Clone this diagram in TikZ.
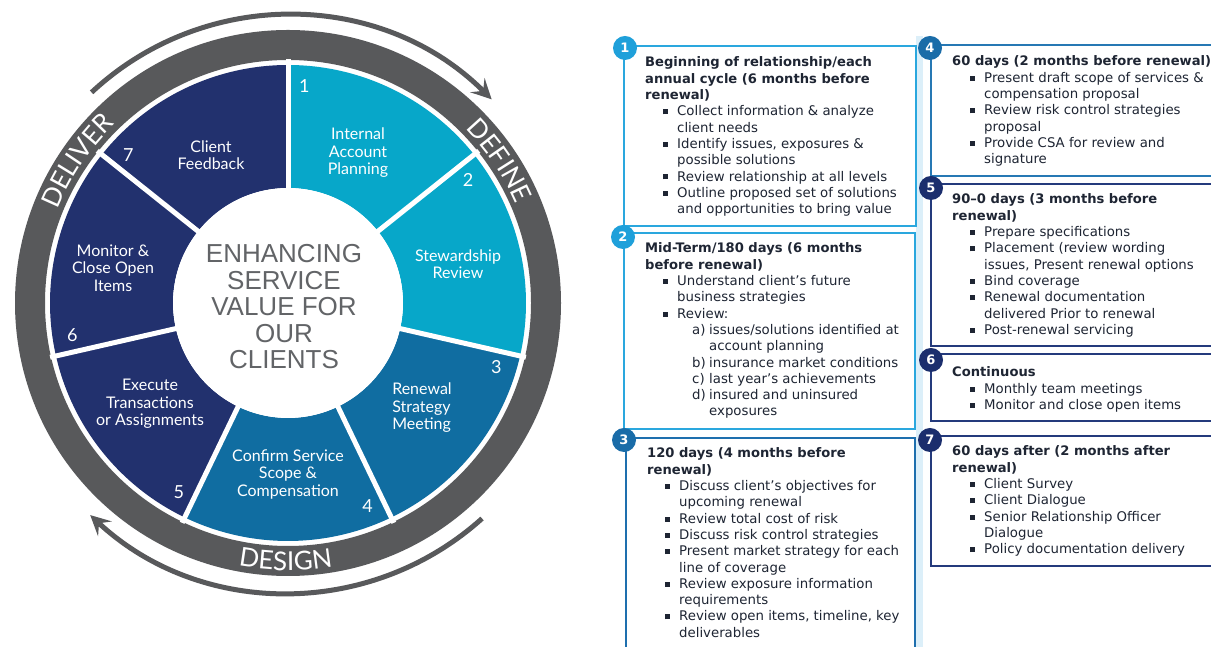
\documentclass[tikz,border=0pt]{standalone}
\usepackage{fontspec}
\usetikzlibrary{arrows.meta,decorations.text}
\newfontfamily\latofont{Lato}
\newfontfamily\cardfont{DejaVu Sans}
\newfontfamily\hubfont{Liberation Sans}
\definecolor{ringgray}{HTML}{58595B}
\definecolor{segcyan}{HTML}{07A7C9}
\definecolor{segblue}{HTML}{106DA1}
\definecolor{segnavy}{HTML}{22316E}
\definecolor{hubtext}{HTML}{626467}
\definecolor{bodytext}{HTML}{1E2533}
\definecolor{edgecyan}{HTML}{2AA7DE}
\definecolor{edgeblue}{HTML}{1E6FAE}
\definecolor{edgesteel}{HTML}{2678B4}
\definecolor{edgenavy}{HTML}{243A7C}
\definecolor{badgecyan}{HTML}{1FA0DA}
\definecolor{badgeblue}{HTML}{1A6CA8}
\definecolor{badgenavy}{HTML}{1B2E6D}
\definecolor{gutter}{HTML}{DCEFF9}

% list helpers for the step cards
\newcommand\bul{\hspace*{18pt}\makebox[14pt][l]{\rule[1.6pt]{5pt}{5pt}}}
\newcommand\bcont{\hspace*{32pt}}
\newcommand\sublbl[1]{\hspace*{47pt}\makebox[17pt][l]{#1}}
\newcommand\subcont{\hspace*{64pt}}
\newcommand\cardhead[1]{{\bfseries\fontsize{13.1}{16.3}\selectfont #1}}
\newcommand\ringfont{\latofont\fontsize{26}{26}\selectfont\color{white}}

\tikzset{
  seglabel/.style={text=white, font=\latofont\fontsize{16}{17.5}\selectfont, align=center, inner sep=0},
  segnum/.style={text=white, font=\latofont\fontsize{18}{18}\selectfont, inner sep=0},
  stepcard/.style={draw=#1, line width=2.2pt, fill=white, anchor=north west, inner sep=0, rectangle},
  badge/.style={circle, fill=#1, text=white, font=\cardfont\bfseries\fontsize{13}{13}\selectfont, minimum size=24pt, inner sep=0},
  cardtext/.style={anchor=base west, inner sep=0, text=bodytext, font=\cardfont\fontsize{13.3}{16.3}\selectfont},
  cyclearrow/.style={draw=ringgray, line width=5pt, -{Stealth[length=20pt,width=20pt,inset=8pt]}},
  ringword/.style={decorate, decoration={text along path, text align=center, text={|\ringfont|#1}}},
}

\begin{document}
\begin{tikzpicture}[x=1pt,y=1pt]
\useasboundingbox (0,0) rectangle (1211,647);
\clip (0,0) rectangle (1211,647);
\fill[white] (0,0) rectangle (1211,647);

% ---------------- service wheel ----------------
\begin{scope}[shift={(288,344)}]
  \coordinate (hubc) at (0,0);
  % outer grey band
  \fill[ringgray, even odd rule] (0,0) circle (273) (0,0) circle (243);
  % seven segments, clockwise from the top
  \foreach \i/\col in {0/segcyan,1/segcyan,2/segblue,3/segblue,4/segnavy,5/segnavy,6/segnavy}{
    \pgfmathsetmacro\a{90-\i*360/7}
    \pgfmathsetmacro\b{90-(\i+1)*360/7}
    \fill[\col] (\a:115) arc[start angle=\a, end angle=\b, radius=115]
      -- (\b:238) arc[start angle=\b, end angle=\a, radius=238] -- cycle;
  }
  \foreach \i in {0,...,6}{
    \pgfmathsetmacro\a{90-\i*360/7}
    \draw[white, line width=5pt] (\a:110) -- (\a:244);
  }
  \fill[white] (0,0) circle (115);

  % segment numbers
  \foreach \i in {1,...,7}{
    \pgfmathsetmacro\a{90-(\i-1)*360/7-4.3}
    \node[segnum] (num\i) at (\a:218) {\i};
  }

  % segment labels
  \node[seglabel] (s1) at (70,150) {Internal\\Account\\Planning};
  \node[seglabel] (s2) at (170,39) {Stewardship\\Review};
  \node[seglabel, align=left] (s3) at (134,-105) {Renewal\\Strategy\\Meeting};
  \node[seglabel] (s4) at (0,-171) {Confirm Service\\Scope \&\\Compensation};
  \node[seglabel] (s5) at (-138,-101) {Execute\\Transactions\\or Assignments};
  \node[seglabel] (s6) at (-175,35) {Monitor \&\\Close Open\\Items};
  \node[seglabel] (s7) at (-77,148) {Client\\Feedback};

  % hub title
  \node[font=\hubfont\fontsize{26}{26.5}\selectfont, text=hubtext, align=center, inner sep=0] (hub) at (-4,-4)
    {ENHANCING\\SERVICE\\VALUE FOR\\OUR\\CLIENTS};

  % words set along the grey band
  \path[ringword=DEFINE] (62:248.6) arc[start angle=62, end angle=6, radius=248.6];
  \path[ringword=DELIVER] (176:248.6) arc[start angle=176, end angle=116, radius=248.6];
  \path[ringword=DESIGN] (-122:267.4) arc[start angle=-122, end angle=-59, radius=267.4];

  % cycle arrows
  \draw[cyclearrow] (133:288) arc[start angle=133, end angle=45, radius=288];
  \draw[cyclearrow] (-48:290) arc[start angle=-48, end angle=-133, radius=290];
\end{scope}

% pale gutter between the two card columns
\fill[gutter] (916,0) rectangle (923,611);

% ---------------- step cards, left column ----------------
\node[stepcard=edgecyan, minimum width=292pt, minimum height=180pt] (card1) at (623,602) {};
\node[stepcard=edgecyan, minimum width=291pt, minimum height=196pt] (card2) at (623,415) {};
\node[stepcard=edgeblue, minimum width=289pt, minimum height=240pt] (card3) at (625,210) {};
% right column
\node[stepcard=edgesteel, minimum width=300pt, minimum height=131pt] (card4) at (930,603) {};
\node[stepcard=edgenavy, minimum width=300pt, minimum height=162pt] (card5) at (930,464) {};
\node[stepcard=edgenavy, minimum width=300pt, minimum height=67pt] (card6) at (930,294) {};
\node[stepcard=edgenavy, minimum width=300pt, minimum height=130pt] (card7) at (930,212) {};

\node[badge=badgecyan] (b1) at (625,599) {1};
\node[badge=badgecyan] (b2) at (623,410) {2};
\node[badge=badgeblue] (b3) at (624,207) {3};
\node[badge=badgeblue] (b4) at (930,599) {4};
\node[badge=badgenavy] (b5) at (931,459) {5};
\node[badge=badgenavy] (b6) at (931,287) {6};
\node[badge=badgenavy] (b7) at (930,207) {7};

\node[cardtext] (t1) at (645,580) {\parbox[t]{320pt}{\raggedright
\cardhead{Beginning of relationship/each}\\
\cardhead{annual cycle (6 months before}\\
\cardhead{renewal)}\\
\bul Collect information \& analyze\\
\bcont client needs\\
\bul Identify issues, exposures \&\\
\bcont possible solutions\\
\bul Review relationship at all levels\\
\bul Outline proposed set of solutions\\
\bcont and opportunities to bring value}};

\node[cardtext] (t2) at (645,394) {\parbox[t]{320pt}{\raggedright
\cardhead{Mid-Term/180 days (6 months}\\
\cardhead{before renewal)}\\
\bul Understand client’s future\\
\bcont business strategies\\
\bul Review:\\
\sublbl{a)}issues/solutions identified at\\
\subcont account planning\\
\sublbl{b)}insurance market conditions\\
\sublbl{c)}last year’s achievements\\
\sublbl{d)}insured and uninsured\\
\subcont exposures}};

\node[cardtext] (t3) at (647,189) {\parbox[t]{320pt}{\raggedright
\cardhead{120 days (4 months before}\\
\cardhead{renewal)}\\
\bul Discuss client’s objectives for\\
\bcont upcoming renewal\\
\bul Review total cost of risk\\
\bul Discuss risk control strategies\\
\bul Present market strategy for each\\
\bcont line of coverage\\
\bul Review exposure information\\
\bcont requirements\\
\bul Review open items, timeline, key\\
\bcont deliverables}};

\node[cardtext] (t4) at (952,581) {\parbox[t]{320pt}{\raggedright
\cardhead{60 days (2 months before renewal)}\\
\bul Present draft scope of services \&\\
\bcont compensation proposal\\
\bul Review risk control strategies\\
\bcont proposal\\
\bul Provide CSA for review and\\
\bcont signature}};

\node[cardtext] (t5) at (952,443) {\parbox[t]{320pt}{\raggedright
\cardhead{90–0 days (3 months before}\\
\cardhead{renewal)}\\
\bul Prepare specifications\\
\bul Placement (review wording\\
\bcont issues, Present renewal options\\
\bul Bind coverage\\
\bul Renewal documentation\\
\bcont delivered Prior to renewal\\
\bul Post-renewal servicing}};

\node[cardtext] (t6) at (952,270) {\parbox[t]{320pt}{\raggedright
\cardhead{Continuous}\\
\bul Monthly team meetings\\
\bul Monitor and close open items}};

\node[cardtext] (t7) at (952,191) {\parbox[t]{320pt}{\raggedright
\cardhead{60 days after (2 months after}\\
\cardhead{renewal)}\\
\bul Client Survey\\
\bul Client Dialogue\\
\bul Senior Relationship Officer\\
\bcont Dialogue\\
\bul Policy documentation delivery}};
\end{tikzpicture}
\end{document}
